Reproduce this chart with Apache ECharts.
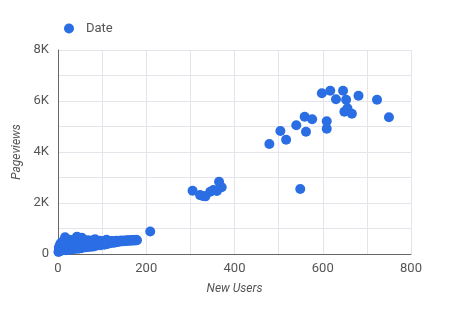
<!DOCTYPE html>
<html>
<head>
<meta charset="utf-8">
<script src="https://cdn.jsdelivr.net/npm/echarts@6/dist/echarts.min.js"></script>
<style>html,body{margin:0;padding:0;background:#fff;}#c{width:458px;height:310px;}</style>
</head>
<body>
<div id="c"></div>
<script>
const seriesName = 'Date';
const xAxisName = 'New Users';
const yAxisName = 'Pageviews';
const xTickLabels = {0:'0',200:'200',400:'400',600:'600',800:'800'};
const yTickLabels = {0:'0',2000:'2K',4000:'4K',6000:'6K',8000:'8K'};
// [New Users, Pageviews]
const lowCluster = [
[1,80],[2,250],[3,140],[4,340],[5,110],[6,420],[7,200],[8,300],[9,150],[10,480],[11,260],[12,160],[13,380],[14,520],[15,200],[16,660],[17,300],[18,150],[19,440],[20,560],[21,230],
[22,350],[23,170],[24,480],[25,280],[26,560],[27,170],[28,400],[29,250],[30,500],[31,190],[32,360],[33,540],[34,220],[35,440],[36,280],[37,500],[38,200],[39,380],[40,560],[41,230],[42,460],[43,680],[44,280],[45,520],[46,210],[47,400],[48,580],[49,250],[50,470],[51,320],[52,540],[53,230],[54,640],[55,380],[56,260],[57,500],[58,560],[59,290],[60,430],
[62,260],[63,520],[64,350],[66,460],[67,280],[68,540],[70,330],[71,480],[72,280],[74,400],[75,520],[76,310],[78,460],[79,290],[80,540],[82,370],[83,470],[84,580],[85,320],[87,420],[88,520],[90,350],[91,470],[93,390],[95,520],[96,340],[98,440],[100,380],[101,500],[103,420],[105,360],[106,510],[108,430],[110,560],[111,390],
[113,480],[115,410],[117,510],[119,430],[121,490],[123,450],[125,510],[127,440],[129,490],[131,460],[133,520],[135,470],[137,500],[139,500],[141,490],[143,530],[145,500],[148,520],[150,500],[152,530],[155,510],[157,540],[160,520],[162,540],[165,520],[168,550],[170,530],[173,550],[175,530],[177,560],[179,540],[209,880]
];
const midCluster = [
[305,2480],[322,2310],[328,2275],[334,2260],[345,2440],[352,2510],[360,2470],[365,2830],[371,2620]
];
const highCluster = [
[479,4314],[504,4824],[517,4482],[540,5047],[549,2549],[559,5384],[562,4796],[576,5282],[598,6302],[609,5204],[609,4914],[617,6404],[630,6067],[646,6404],[649,5580],[653,6051],[656,5714],[666,5502],[681,6208],[723,6051],[750,5361]
];
const data = lowCluster.concat(midCluster, highCluster);

const chart = echarts.init(document.getElementById('c'), null, {renderer:'canvas'});
const txt = '#555';
chart.setOption({
  animation: false,
  backgroundColor: '#fff',
  textStyle: {fontFamily: 'Roboto'},
  legend: {
    data: [seriesName], left: 59, top: 17, icon: 'circle', itemWidth: 10, itemHeight: 10, itemGap: 8,
    textStyle: {color: txt, fontSize: 13, fontFamily: 'Roboto', padding: [0,0,0,7]}
  },
  grid: {left: 58, right: 47, top: 50, bottom: 56},
  xAxis: {
    type: 'value', min: 0, max: 800, interval: 100,
    name: xAxisName, nameLocation: 'middle', nameGap: 29,
    nameTextStyle: {color: txt, fontSize: 12, fontStyle: 'italic', fontFamily: 'Roboto'},
    axisLine: {show: true, lineStyle: {color: '#666', width: 1}},
    axisTick: {show: false},
    axisLabel: {color: txt, fontSize: 13, margin: 8, formatter: v => (v in xTickLabels ? xTickLabels[v] : '')},
    splitLine: {show: true, lineStyle: {color: '#e4e4ea', width: 1}}
  },
  yAxis: {
    type: 'value', min: 0, max: 8000, interval: 1000,
    name: yAxisName, nameLocation: 'middle', nameGap: 25, nameRotate: 90,
    nameTextStyle: {color: txt, fontSize: 12, fontStyle: 'italic', fontFamily: 'Roboto'},
    axisLine: {show: true, lineStyle: {color: '#666', width: 1}},
    axisTick: {show: false},
    axisLabel: {color: txt, fontSize: 13, margin: 9, formatter: v => (v in yTickLabels ? yTickLabels[v] : '')},
    splitLine: {show: true, lineStyle: {color: '#e4e4ea', width: 1}}
  },
  series: [{
    name: seriesName, type: 'scatter', symbol: 'circle', symbolSize: 10,
    itemStyle: {color: '#2b6ee4', opacity: 1},
    data: data
  }]
});
</script>
</body>
</html>
